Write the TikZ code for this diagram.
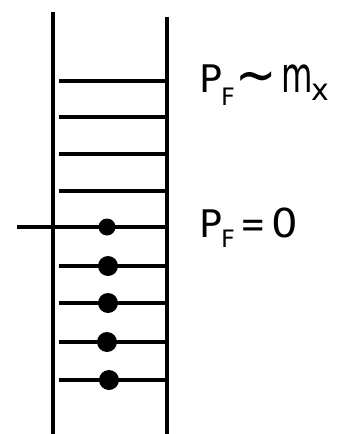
\documentclass[tikz,border=0pt]{standalone}
\usepackage{fontspec}
\setmainfont{DejaVu Sans}
\newcommand{\subF}[1]{\raisebox{-#1}{\fontsize{24}{24}\selectfont F}}
\begin{document}
\begin{tikzpicture}[x=1pt,y=-1pt,
  rail/.style={line width=4pt},
  rung/.style={line width=3.4pt},
  electron/.style={circle,fill=black,inner sep=0pt,minimum size=20pt},
  lbl/.style={anchor=base west,inner sep=0pt,font=\fontsize{38}{38}\selectfont}]
\useasboundingbox (0,0) rectangle (356,434);
% rails
\coordinate (lt) at (53,12);
\coordinate (lb) at (53,434);
\coordinate (rt) at (167,17);
\coordinate (rb) at (167,434);
\draw[rail] (lt) -- (lb);
\draw[rail] (rt) -- (rb);
% rungs
\foreach \i/\y in {1/81,2/117,3/154,4/191,6/266,7/303,8/342,9/380}{
  \coordinate (a\i) at (59,\y);
  \coordinate (b\i) at (167,\y);
  \draw[rung] (a\i) -- (b\i);
}
\coordinate (a5) at (17,227);
\coordinate (b5) at (167,227);
\draw[rung] (a5) -- (b5);
% electrons
\node[electron,minimum size=17pt] (e5) at (107,227) {};
\node[electron] (e6) at (108,266) {};
\node[electron] (e7) at (108,303) {};
\node[electron] (e8) at (107,342) {};
\node[electron] (e9) at (109,380) {};
% labels
\node[lbl] (l1) at (199,92) {P\hspace{-1pt}\subF{13pt}\hspace{1pt}\raisebox{-2pt}{\scalebox{1.3}[1.5]{∼}}\hspace{4pt}\scalebox{0.85}[1.3]{m}\hspace{-1pt}\raisebox{-8pt}{\fontsize{30}{30}\selectfont x}};
\node[lbl] (l2) at (199,237) {P\hspace{-1pt}\subF{10pt}\hspace{6pt}\scalebox{0.8}[1]{=}\hspace{5pt}\scalebox{1.1}[1.05]{0}};
\end{tikzpicture}
\end{document}
